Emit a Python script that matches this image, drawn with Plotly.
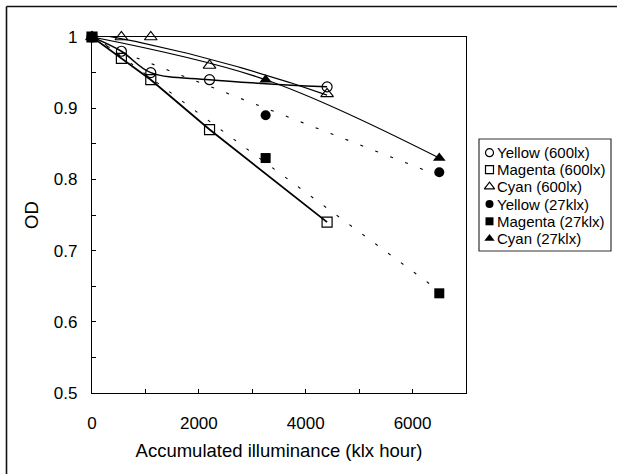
import numpy as np
import plotly.graph_objects as go

# ---------------- data ----------------
x_600lx = [0, 550, 1100, 2200, 4400]
yellow_600lx = [1.00, 0.98, 0.95, 0.94, 0.93]
magenta_600lx = [1.00, 0.97, 0.94, 0.87, 0.74]
cyan_600lx = [1.00, 1.00, 1.00, 0.96, 0.92]

x_27klx = [0, 3250, 6500]
yellow_27klx = [1.00, 0.89, 0.81]
magenta_27klx = [1.00, 0.83, 0.64]
cyan_27klx = [1.00, 0.94, 0.83]

series_names = ["Yellow (600lx)", "Magenta (600lx)", "Cyan (600lx)",
                "Yellow (27klx)", "Magenta (27klx)", "Cyan (27klx)"]

x_tick_vals = [0, 1000, 2000, 3000, 4000, 5000, 6000, 7000]
x_tick_text = ["0", "", "2000", "", "4000", "", "6000", ""]
y_tick_vals = [0.5, 0.55, 0.6, 0.65, 0.7, 0.75, 0.8, 0.85, 0.9, 0.95, 1.0]
y_tick_text = ["0.5", "", "0.6", "", "0.7", "", "0.8", "", "0.9", "", "1"]

x_title = "Accumulated illuminance (klx hour)"
y_title = "OD"

# ---------------- layout geometry (pixels) ----------------
W, H = 617, 474
ML, MT = 92, 37
PLOT_R, PLOT_B = 466, 393
LEG_L, LEG_R, LEG_T, LEG_B = 479, 611, 139, 251
paper_w = LEG_R - ML
paper_h = PLOT_B - MT

FONT = "Liberation Sans, Arial, sans-serif"
BLACK = "#000000"

fig = go.Figure()

def trend(xs, ys, deg, n=80):
    c = np.polyfit(xs, ys, deg)
    gx = np.linspace(min(xs), max(xs), n)
    return gx, np.polyval(c, gx)

# ---- lines ----
fig.add_trace(go.Scatter(x=x_600lx, y=yellow_600lx, mode="lines",
                         line=dict(color=BLACK, width=1.5, shape="spline", smoothing=1.0),
                         showlegend=False, hoverinfo="skip"))
fig.add_trace(go.Scatter(x=x_600lx, y=magenta_600lx, mode="lines",
                         line=dict(color=BLACK, width=1.8),
                         showlegend=False, hoverinfo="skip"))
gx, gy = trend(x_600lx, cyan_600lx, 2)
fig.add_trace(go.Scatter(x=gx, y=gy, mode="lines",
                         line=dict(color=BLACK, width=1.2),
                         showlegend=False, hoverinfo="skip"))
gx, gy = trend(x_27klx, yellow_27klx, 1, 2)
fig.add_trace(go.Scatter(x=gx, y=gy, mode="lines",
                         line=dict(color=BLACK, width=1.1, dash="3px,13px"),
                         showlegend=False, hoverinfo="skip"))
gx, gy = trend(x_27klx, magenta_27klx, 1, 2)
fig.add_trace(go.Scatter(x=gx, y=gy, mode="lines",
                         line=dict(color=BLACK, width=1.1, dash="3px,13px"),
                         showlegend=False, hoverinfo="skip"))
fig.add_trace(go.Scatter(x=x_27klx, y=cyan_27klx, mode="lines",
                         line=dict(color=BLACK, width=1.2, shape="spline", smoothing=1.0),
                         showlegend=False, hoverinfo="skip"))

# ---- markers ----
marker_styles = [
    dict(symbol="circle-open", size=10, color=BLACK, line=dict(width=1.2, color=BLACK)),
    dict(symbol="square-open", size=10, color=BLACK, line=dict(width=1.2, color=BLACK)),
    dict(symbol="triangle-up-open", size=11, color=BLACK, line=dict(width=1.2, color=BLACK)),
    dict(symbol="circle", size=10, color=BLACK),
    dict(symbol="square", size=10, color=BLACK),
    dict(symbol="triangle-up", size=11, color=BLACK),
]
series_x = [x_600lx, x_600lx, x_600lx, x_27klx, x_27klx, x_27klx]
series_y = [yellow_600lx, magenta_600lx, cyan_600lx, yellow_27klx, magenta_27klx, cyan_27klx]

for name, xs, ys, ms in zip(series_names, series_x, series_y, marker_styles):
    fig.add_trace(go.Scatter(x=xs, y=ys, mode="markers", name=name, marker=ms,
                             cliponaxis=False, showlegend=False))

# ---- custom legend on its own hidden axes ----
leg_w = LEG_R - LEG_L
leg_h = LEG_B - LEG_T
item_py = [152.7, 169.7, 186.7, 204.0, 221.3, 238.5]
for name, ms, py in zip(series_names, marker_styles, item_py):
    lm = dict(ms)
    lm["size"] = 8 if "triangle" not in ms["symbol"] else 9
    fig.add_trace(go.Scatter(x=[10.5], y=[LEG_B - py], mode="markers", marker=lm,
                             xaxis="x2", yaxis="y2", showlegend=False, hoverinfo="skip",
                             cliponaxis=False))
    fig.add_annotation(x=16, y=LEG_B - py, xref="x2", yref="y2", text=name,
                       showarrow=False, xanchor="left", yanchor="middle",
                       font=dict(family=FONT, size=15, color=BLACK))

fig.add_shape(type="rect", xref="x2 domain", yref="y2 domain", x0=0, x1=1, y0=0, y1=1,
              line=dict(color="#333333", width=1.2), fillcolor="rgba(0,0,0,0)")

# ---- outer frame (left and top edges visible) ----
fx = (6.5 - ML) / paper_w
fy = (PLOT_B - 6.5) / paper_h
fig.add_shape(type="line", xref="paper", yref="paper", x0=fx, x1=fx, y0=-0.5, y1=fy,
              line=dict(color="#111111", width=1.6), layer="above")
fig.add_shape(type="line", xref="paper", yref="paper", x0=fx, x1=1.3, y0=fy, y1=fy,
              line=dict(color="#111111", width=1.6), layer="above")

fig.update_layout(
    width=W, height=H, autosize=False,
    margin=dict(l=ML, r=W - LEG_R, t=MT, b=H - PLOT_B, pad=0),
    paper_bgcolor="white", plot_bgcolor="white",
    font=dict(family=FONT, color=BLACK),
    showlegend=False,
    xaxis=dict(domain=[0, (PLOT_R - ML) / paper_w], range=[0, 7000],
               tickvals=x_tick_vals, ticktext=x_tick_text,
               ticks="inside", ticklen=4, tickwidth=1.2, tickcolor=BLACK,
               showline=True, linecolor=BLACK, linewidth=1.2, mirror=True,
               showgrid=False, zeroline=False, automargin=False,
               tickfont=dict(family=FONT, size=17, color=BLACK), ticklabelstandoff=14,
               title=dict(text=x_title, font=dict(family=FONT, size=18.5, color=BLACK), standoff=12)),
    yaxis=dict(range=[0.5, 1.0],
               tickvals=y_tick_vals, ticktext=y_tick_text,
               ticks="inside", ticklen=4, tickwidth=1.2, tickcolor=BLACK,
               showline=True, linecolor=BLACK, linewidth=1.2, mirror=True,
               showgrid=False, zeroline=False, automargin=False,
               tickfont=dict(family=FONT, size=17, color=BLACK), ticklabelstandoff=10,
               title=dict(text=y_title, font=dict(family=FONT, size=18.5, color=BLACK), standoff=10)),
    xaxis2=dict(domain=[(LEG_L - ML) / paper_w, 1.0], range=[0, leg_w], visible=False,
                fixedrange=True, anchor="y2"),
    yaxis2=dict(domain=[(PLOT_B - LEG_B) / paper_h, (PLOT_B - LEG_T) / paper_h],
                range=[0, leg_h], visible=False, fixedrange=True, anchor="x2"),
)

fig.write_html("out.html", config={"displayModeBar": False},
               post_script="document.body.style.margin='0px';document.body.style.padding='0px';")
